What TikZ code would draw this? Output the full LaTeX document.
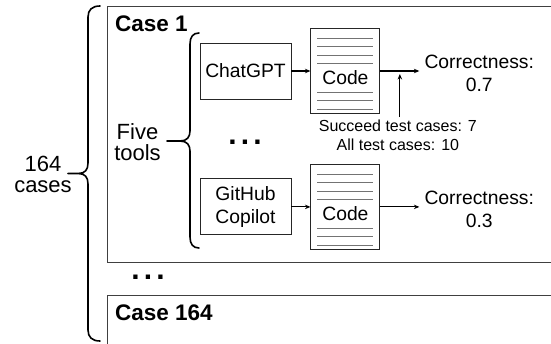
\documentclass[tikz,border=0pt]{standalone}
\usepackage{fontspec}
\setmainfont{Liberation Sans}
\usetikzlibrary{arrows.meta, positioning, calc}

\begin{document}
\begin{tikzpicture}[x=1pt, y=-1pt, node distance=19pt, >={Stealth[length=5.5pt,width=4.5pt]},
      every node/.style={font=\fontsize{19.3}{22.4}\selectfont},
      tool/.style={draw=black!85, line width=0.9pt, minimum width=91pt, minimum height=56pt, align=center, inner sep=2pt},
      doc/.style={draw=black!85, line width=0.9pt, fill=white, minimum width=69pt, minimum height=85pt},
      docline/.style={draw=black!55, line width=0.6pt},
      result/.style={align=center, inner sep=5pt},
      testinfo/.style={align=center, inner sep=3pt, font=\fontsize{16}{18.4}\selectfont},
      side/.style={align=center, inner sep=0pt, font=\fontsize{22}{21.7}\selectfont},
      caselabel/.style={anchor=west, inner sep=0pt, font=\fontsize{22.5}{26}\selectfont\bfseries},
      dots/.style={inner sep=0pt, font=\fontsize{30}{30}\selectfont\bfseries},
      casebox/.style={draw=black!75, line width=0.9pt},
      bracket/.style={line width=1.6pt, line cap=round},
      conn/.style={->, line width=1.1pt}]
  \clip (0,0) rectangle (551,343);

  % the cases
  \draw[casebox] (107,6) rectangle (560,262);
  \draw[casebox] (107,295) rectangle (560,360);
  \node[caselabel] (case1) at (115,23.5) {Case 1};
  \node[caselabel] (case164) at (115,313) {Case 164};
  \node[dots] (casedots) at (148,277.7) {.\hspace{4.2pt}.\hspace{4.2pt}.};

  % outer brace
  \draw[bracket] (100,6) .. controls (92,6) and (88,10) .. (88,17) -- (88,163)
    .. controls (88,170) and (85,173.5) .. (78,173.5) -- (68,173.5)
    (78,173.5) .. controls (85,173.5) and (88,177) .. (88,184) -- (88,330)
    .. controls (88,337) and (92,341) .. (100,341);
  \node[side] (cases) at (43,174.4) {164\\cases};

  % inner brace
  \draw[bracket] (199,33) .. controls (193,33) and (190,37) .. (190,44) -- (190,131)
    .. controls (190,137) and (187,141) .. (180,141) -- (167,141)
    (180,141) .. controls (187,141) and (190,145) .. (190,151) -- (190,237)
    .. controls (190,244) and (193,248) .. (199,248);
  \node[side] (five) at (137.5,142.2) {Five\\tools};

  % tools
  \node[tool] (chat) at (245.5,71) {ChatGPT};
  \node[tool, below=79pt of chat] (copilot) {GitHub\\Copilot};
  \node[dots] (tooldots) at (245,142.7) {.\hspace{4.2pt}.\hspace{4.2pt}.};

  \node[doc, right=of chat] (code1) {};
  \node[doc, right=of copilot] (code2) {};
  \foreach \c in {code1, code2} {
    \foreach \dy in {-33,-24.5,-16,-7.5,21,29.5,38}
      \draw[docline] ($(\c.west)+(7,\dy)$) -- ($(\c.east)+(-7,\dy)$);
    \node[inner sep=0pt] (\c txt) at ($(\c.center)+(0,6.5)$) {Code};
  }

  \node[result, right=39pt of code1, yshift=-2.5pt] (corr1) {Correctness:\\0.7};
  \node[result, right=39pt of code2, yshift=-2.5pt] (corr2) {Correctness:\\0.3};

  \draw[conn] (chat) -- (code1);
  \draw[conn] (copilot) -- (code2);
  \draw[conn] (code1.east) -- (code1.east -| corr1.west);
  \draw[conn] (code2.east) -- (code2.east -| corr2.west);

  % test cases
  \coordinate (meet) at ($(code1.east)!0.5!(code1.east -| corr1.west)$);
  \node[testinfo, below=46pt of meet, xshift=-2pt] (tests) {Succeed test cases: 7\\All test cases: 10};
  \draw[conn, shorten >=3pt] (tests.north -| meet) -- (meet);
\end{tikzpicture}
\end{document}
